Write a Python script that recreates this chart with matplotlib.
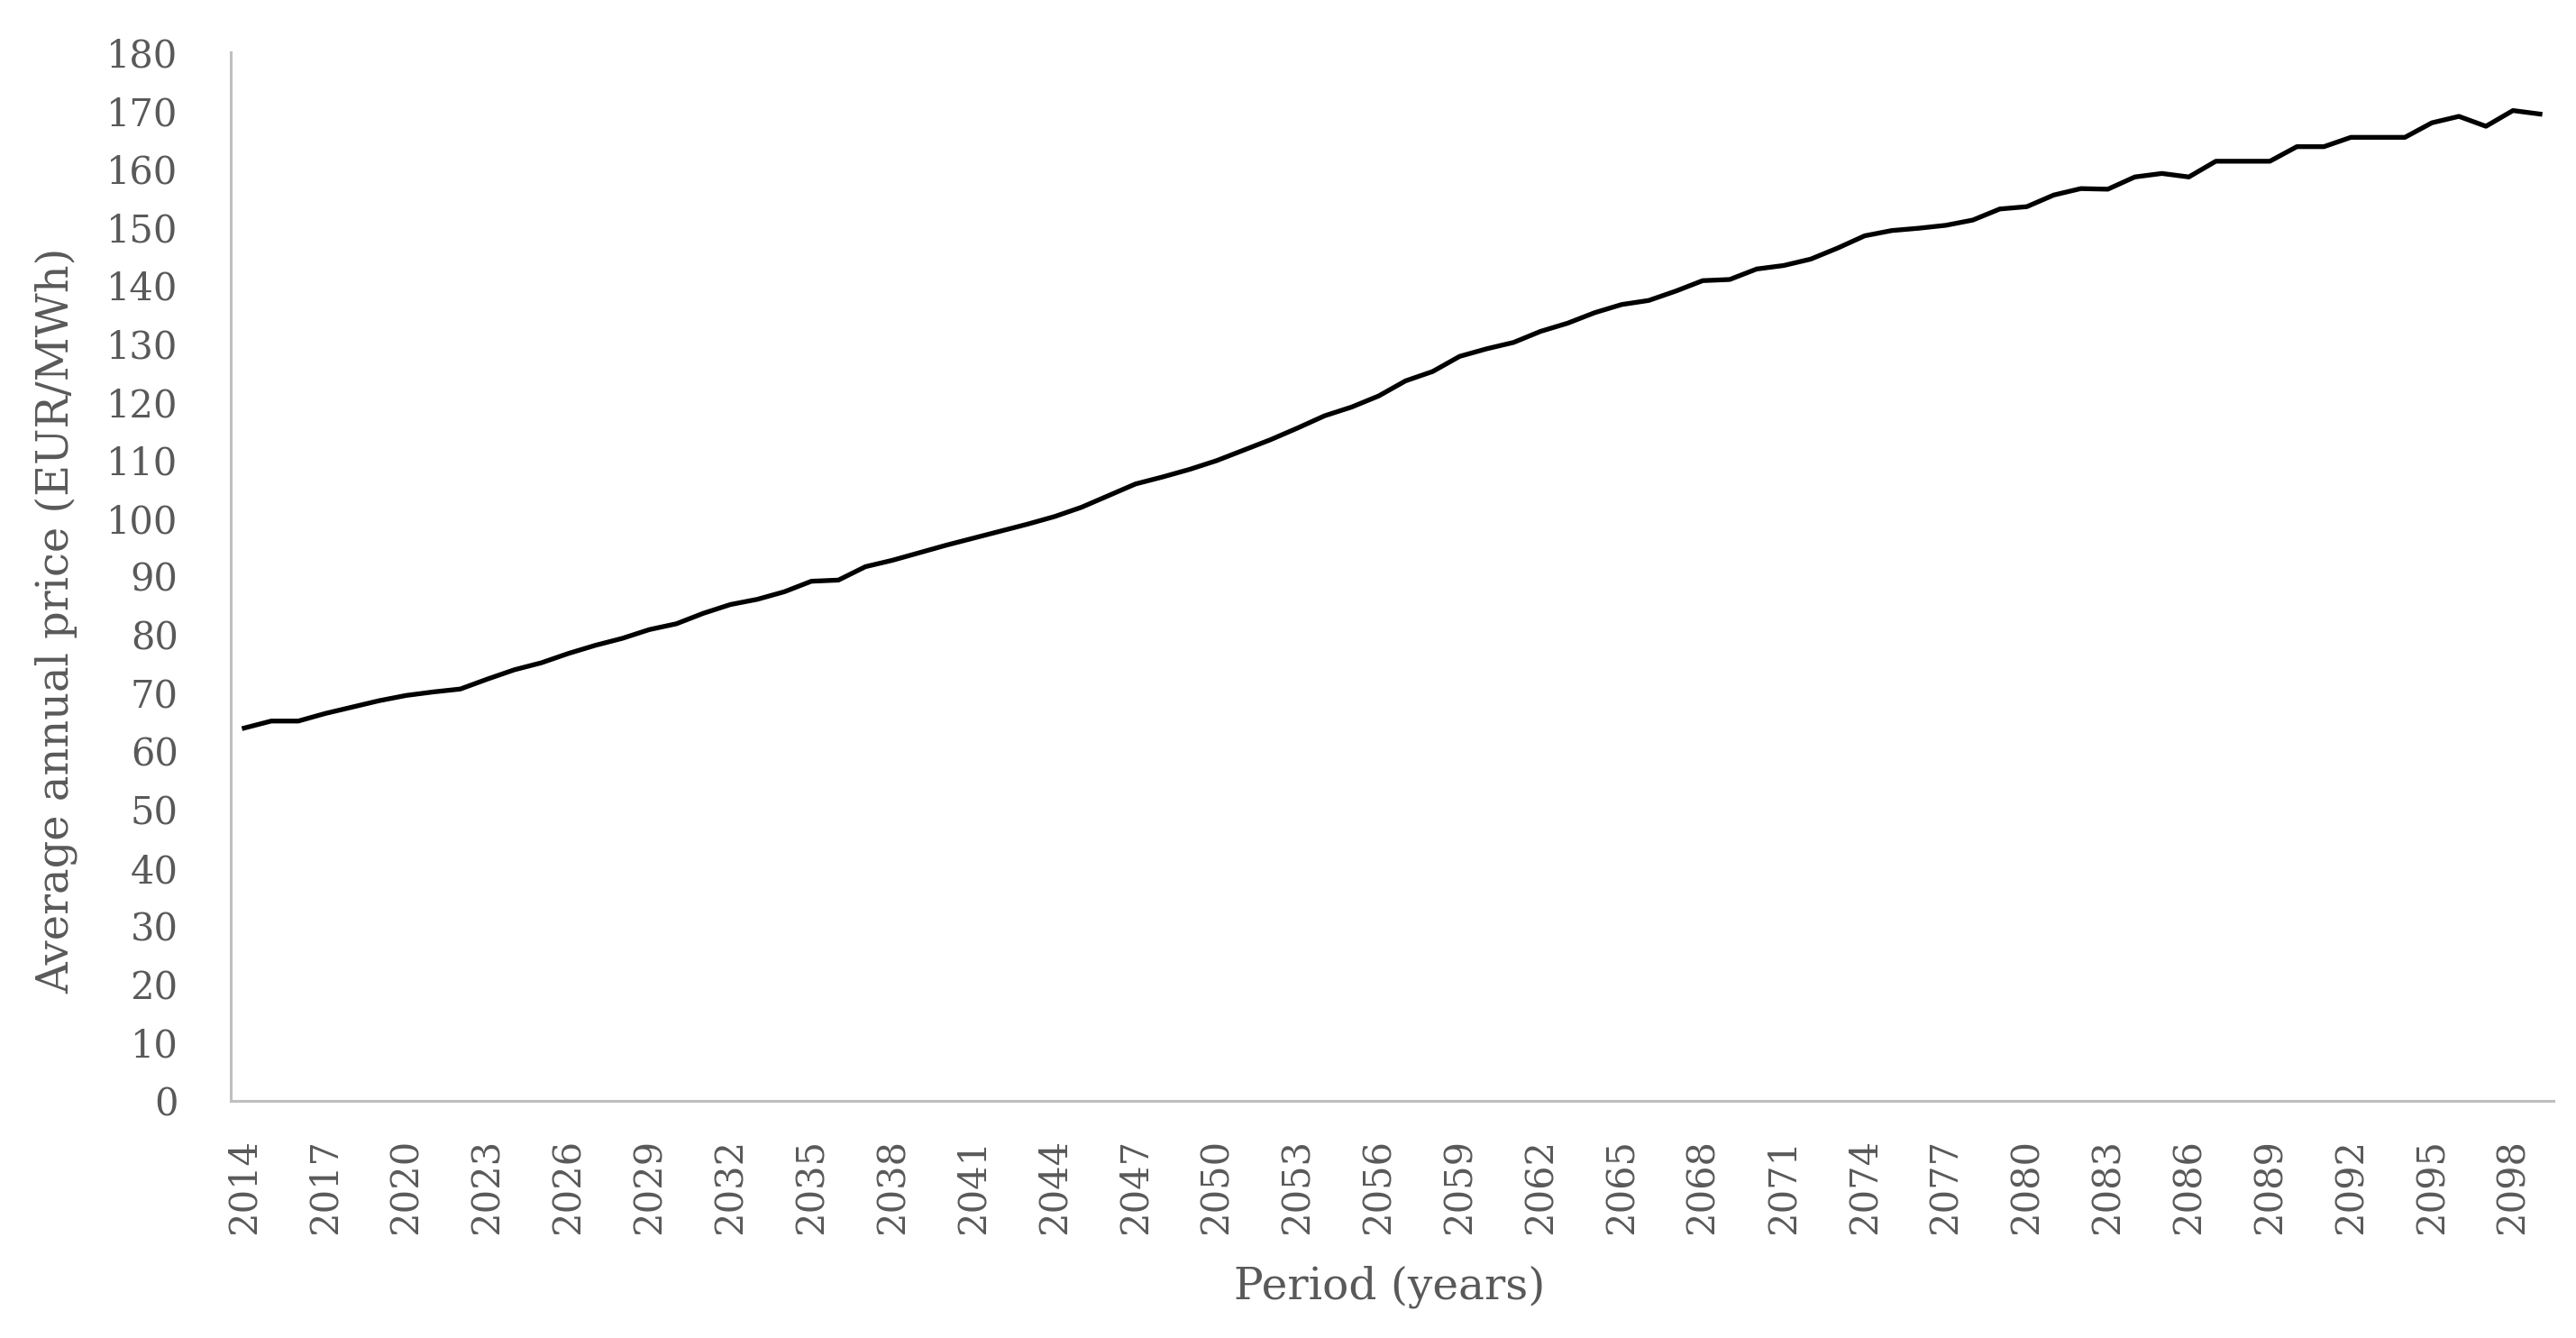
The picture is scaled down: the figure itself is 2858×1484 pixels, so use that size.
import matplotlib
matplotlib.use("Agg")
import matplotlib.pyplot as plt

years = list(range(2014, 2100))
prices = [
    64.0, 65.2, 65.2, 66.5, 67.6, 68.7, 69.6, 70.2, 70.7, 72.4,
    74.0, 75.2, 76.8, 78.2, 79.4, 80.9, 81.9, 83.7, 85.2, 86.1,
    87.4, 89.2, 89.4, 91.7, 92.8, 94.1, 95.4, 96.6, 97.8, 99.0,
    100.3, 101.9, 103.9, 105.9, 107.1, 108.4, 109.9, 111.7, 113.5, 115.5,
    117.6, 119.1, 121.0, 123.6, 125.2, 127.8, 129.1, 130.2, 132.1, 133.5,
    135.3, 136.7, 137.4, 139.0, 140.8, 141.0, 142.8, 143.4, 144.5, 146.4,
    148.5, 149.4, 149.8, 150.3, 151.2, 153.1, 153.5, 155.5, 156.6, 156.5,
    158.6, 159.2, 158.6, 161.3, 161.3, 161.3, 163.8, 163.8, 165.4, 165.4,
    165.4, 167.9, 169.0, 167.3, 170.0, 169.4,
]
xtick_years = list(range(2014, 2100, 3))
ytick_values = list(range(0, 181, 10))

text_color = "#595959"
font = "DejaVu Serif"

fig = plt.figure(figsize=(28.58, 14.84), dpi=100)
ax = fig.add_axes([256 / 2858, 1 - 1221 / 1484, (2833 - 256) / 2858, (1221 - 58) / 1484])

ax.plot(years, prices, color="black", linewidth=3.8, solid_joinstyle="round")

ax.set_xlim(years[0] - 0.5, years[-1] + 0.5)
ax.set_ylim(0, 180)
ax.set_yticks(ytick_values)
ax.set_xticks(xtick_years)
ax.set_xticklabels([str(y) for y in xtick_years], rotation=90, fontsize=30,
                   color=text_color, family=font)
ax.set_yticklabels([str(v) for v in ytick_values], fontsize=30,
                   color=text_color, family=font)
ax.tick_params(axis="both", length=0)
ax.tick_params(axis="x", pad=30)
ax.tick_params(axis="y", pad=42)

for s in ["top", "right"]:
    ax.spines[s].set_visible(False)
for s in ["left", "bottom"]:
    ax.spines[s].set_color("#bfbfbf")
    ax.spines[s].set_linewidth(2.2)

ax.set_xlabel("Period (years)", fontsize=35, color=text_color, family=font)
ax.set_ylabel("Average annual price (EUR/MWh)", fontsize=34.5, color=text_color,
              family=font)
ax.xaxis.set_label_coords((1542 - 256) / (2833 - 256), -(1403 - 1221) / (1221 - 58))
ax.yaxis.set_label_coords(-(256 - 86) / (2833 - 256), 1 - (688 - 58) / (1221 - 58))

fig.savefig("out.png", dpi=100, facecolor="white")
